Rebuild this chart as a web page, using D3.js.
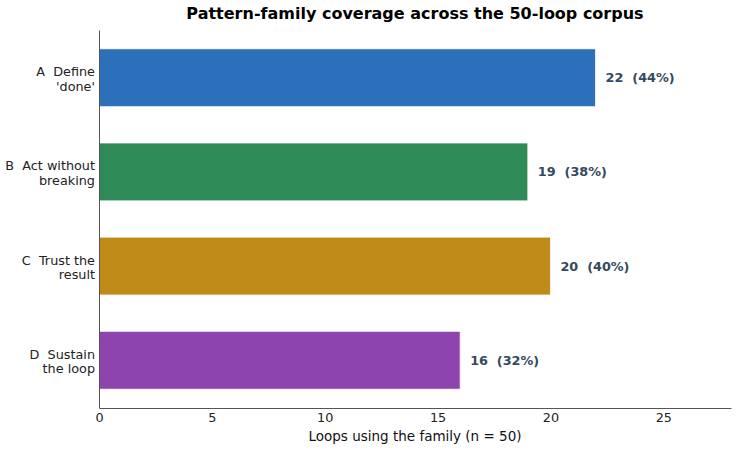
<!DOCTYPE html>
<html lang="en">
<head>
<meta charset="UTF-8">
<script src="https://d3js.org/d3.v7.min.js"></script>
<style>
    body { margin: 0; background: #fff; }
    text { font-family: "DejaVu Sans", sans-serif; }
    .chart-title { font-size: 16px; font-weight: bold; text-anchor: middle; fill: #000; }
    .tick-label { font-size: 12.8px; fill: #222; }
    .value-label { font-size: 12.8px; font-weight: bold; fill: #34495e; }
    .axis-label { font-size: 13.5px; fill: #111; text-anchor: middle; }
</style>
<title>Pattern-family coverage</title>
</head>
<body>
<div id="chart"></div>
<script>
// Data
const families = ["A", "B", "C", "D"];
const familyNames = [["A  Define", "'done'"], ["B  Act without", "breaking"], ["C  Trust the", "result"], ["D  Sustain", "the loop"]];
const loopCounts = [22, 19, 20, 16];
const barColors = ["#2c6fbb", "#2e8b57", "#bf8a17", "#8e44ad"];
const xTicks = [0, 5, 10, 15, 20, 25];
const corpusSize = 50;

// Dimensions
const dims = { width: 738, height: 450, left: 99, right: 731, top: 30, bottom: 408 };

const svg = d3.select("#chart").append("svg")
    .attr("width", dims.width)
    .attr("height", dims.height);

// Scales
const xScale = d3.scaleLinear().domain([0, 28]).range([dims.left, dims.right]);
const yScale = d3.scaleBand().domain(families).range([dims.top, dims.bottom]).paddingInner(0.385).paddingOuter(0.2);

// Bars
svg.append("g").selectAll("rect")
    .data(families)
    .join("rect")
    .attr("x", xScale(0))
    .attr("y", d => yScale(d))
    .attr("width", (d, i) => xScale(loopCounts[i]) - xScale(0))
    .attr("height", yScale.bandwidth())
    .attr("fill", (d, i) => barColors[i])
    .attr("stroke", "#fff")
    .attr("stroke-width", 0.8);

// Value labels
svg.append("g").selectAll("text")
    .data(families)
    .join("text")
    .attr("class", "value-label")
    .attr("x", (d, i) => xScale(loopCounts[i]) + 10)
    .attr("y", d => yScale(d) + yScale.bandwidth() / 2)
    .attr("dy", "0.35em")
    .text((d, i) => `${loopCounts[i]}  (${Math.round(loopCounts[i] / corpusSize * 100)}%)`)
    .style("white-space", "pre");

// Y axis
const yAxis = svg.append("g")
    .attr("transform", `translate(${dims.left},0)`)
    .call(d3.axisLeft(yScale).tickSize(0).tickFormat(""));
yAxis.select(".domain").attr("stroke", "#555").attr("stroke-width", 1);

families.forEach((f, i) => {
    const t = svg.append("text")
        .attr("class", "tick-label")
        .attr("text-anchor", "end")
        .attr("x", dims.left - 4)
        .attr("y", yScale(f) + yScale.bandwidth() / 2 - 6)
        .style("white-space", "pre");
    familyNames[i].forEach((line, j) => {
        t.append("tspan").attr("x", dims.left - 4).attr("dy", j === 0 ? "0.35em" : "14.5px").text(line);
    });
});

// X axis
const xAxis = svg.append("g")
    .attr("transform", `translate(0,${dims.bottom})`)
    .call(d3.axisBottom(xScale).tickValues(xTicks).tickSize(0).tickPadding(5).tickSizeOuter(0));
xAxis.select(".domain").attr("stroke", "#555").attr("stroke-width", 1);
xAxis.selectAll(".tick text").attr("class", "tick-label").attr("font-size", null).attr("font-family", null);

svg.append("text")
    .attr("class", "axis-label")
    .attr("x", (dims.left + dims.right) / 2)
    .attr("y", 441)
    .text(`Loops using the family (n = ${corpusSize})`);

// Title
svg.append("text")
    .attr("class", "chart-title")
    .attr("x", (dims.left + dims.right) / 2)
    .attr("y", 19)
    .text("Pattern-family coverage across the 50-loop corpus");
</script>
</body>
</html>
